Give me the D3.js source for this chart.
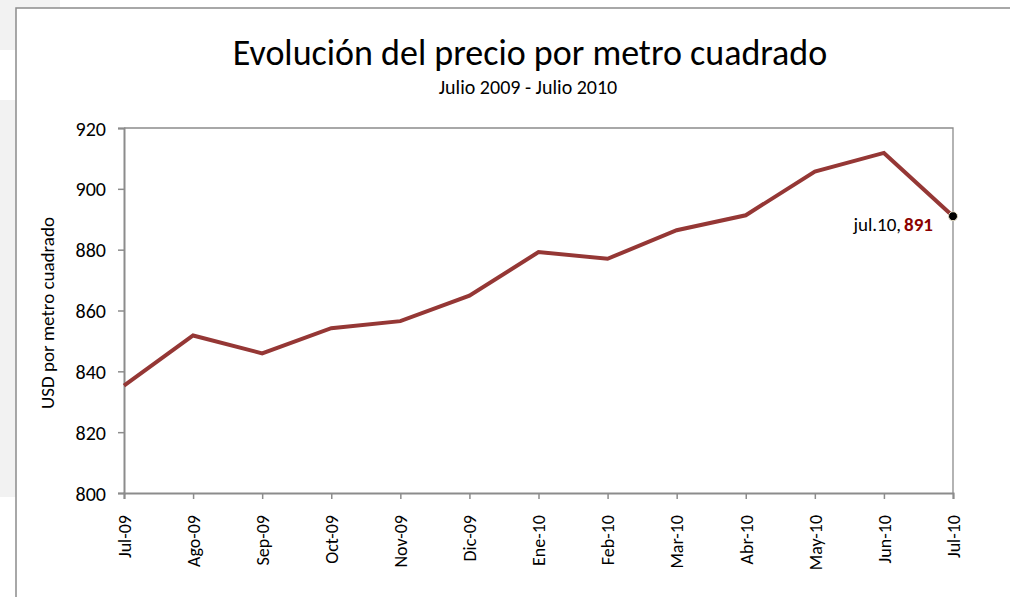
<!DOCTYPE html>
<html><head><meta charset="utf-8">
<script src="https://cdn.jsdelivr.net/npm/d3@7"></script>
<style>body{margin:0;background:#fff}svg{display:block}text{font-family:"Carlito","Open Sans",sans-serif}</style>
</head><body>
<svg id="c" width="1010" height="597"></svg>
<script>
const months = ["Jul-09","Ago-09","Sep-09","Oct-09","Nov-09","Dic-09","Ene-10","Feb-10","Mar-10","Abr-10","May-10","Jun-10","Jul-10"];
const prices = [835.3, 851.8, 845.9, 854.2, 856.5, 864.9, 879.2, 877.0, 886.4, 891.3, 905.7, 911.8, 891];
const yTicks = [800, 820, 840, 860, 880, 900, 920];
const titleText = "Evolución del precio por metro cuadrado";
const subtitleText = "Julio 2009 - Julio 2010";
const yLabelText = "USD por metro cuadrado";
const lastLabel = "jul.10,";

const svg = d3.select("#c");
// background gray patches
svg.append("rect").attr("x",0).attr("y",0).attr("width",60).attr("height",50).attr("fill","#f2f2f2");
svg.append("rect").attr("x",0).attr("y",100).attr("width",16).attr("height",397).attr("fill","#f2f2f2");
// frame
svg.append("rect").attr("x",16).attr("y",8).attr("width",1100).attr("height",700).attr("fill","#fff").attr("stroke","#8c8c8c").attr("stroke-width",1.5);

const L=124,R=953,T=128,B=493;
const x = d3.scalePoint().domain(months).range([L,R]);
const y = d3.scaleLinear().domain([800,920]).range([B,T]);

// plot border (top and right)
svg.append("path").attr("d",`M${L},${T}H${R}V${B}`).attr("fill","none").attr("stroke","#8c8c8c").attr("stroke-width",1.3);

const yAxis = svg.append("g").attr("transform",`translate(${L},0)`)
  .call(d3.axisLeft(y).tickValues(yTicks).tickSize(6).tickPadding(12));
const xAxis = svg.append("g").attr("transform",`translate(0,${B})`)
  .call(d3.axisBottom(x).tickSize(6).tickPadding(0));
[yAxis,xAxis].forEach(g=>{
  g.select(".domain").attr("stroke","#8c8c8c").attr("stroke-width",2);
  g.selectAll(".tick line").attr("stroke","#8c8c8c").attr("stroke-width",1.5);
  g.selectAll("text").attr("fill","#000");
});
yAxis.selectAll("text").attr("dy","0.35em").style("font-size","20px");
xAxis.selectAll("text")
  .style("font-size","18px")
  .attr("transform","rotate(-90)")
  .attr("text-anchor","end")
  .attr("x",-22).attr("y",0).attr("dy","0.35em");

// line
svg.append("path").datum(prices.map((v,i)=>[months[i],v]))
  .attr("fill","none").attr("stroke","#953735").attr("stroke-width",4).attr("stroke-linejoin","miter")
  .attr("d",d3.line().x(d=>x(d[0])).y(d=>y(d[1])));

// last point marker
const li = months.length-1;
svg.append("circle").attr("cx",x(months[li])).attr("cy",y(prices[li])).attr("r",4.5)
  .attr("fill","#000").attr("stroke","#e8e0c8").attr("stroke-width",1);
const ann = svg.append("text").attr("x",x(months[li])-20).attr("y",y(prices[li])+15)
  .attr("text-anchor","end").style("font-size","19px");
ann.append("tspan").attr("fill","#000").text(lastLabel);
ann.append("tspan").attr("dx",3).attr("fill","#8b0000").attr("font-weight","bold").text(String(prices[li]));

// titles
svg.append("text").attr("x",530).attr("y",65).attr("text-anchor","middle").style("font-size","36px").text(titleText);
svg.append("text").attr("x",528).attr("y",94).attr("text-anchor","middle").style("font-size","20px").text(subtitleText);
svg.append("text").attr("transform","translate(54,313) rotate(-90)").attr("text-anchor","middle").style("font-size","19px").text(yLabelText);
</script>
</body></html>
